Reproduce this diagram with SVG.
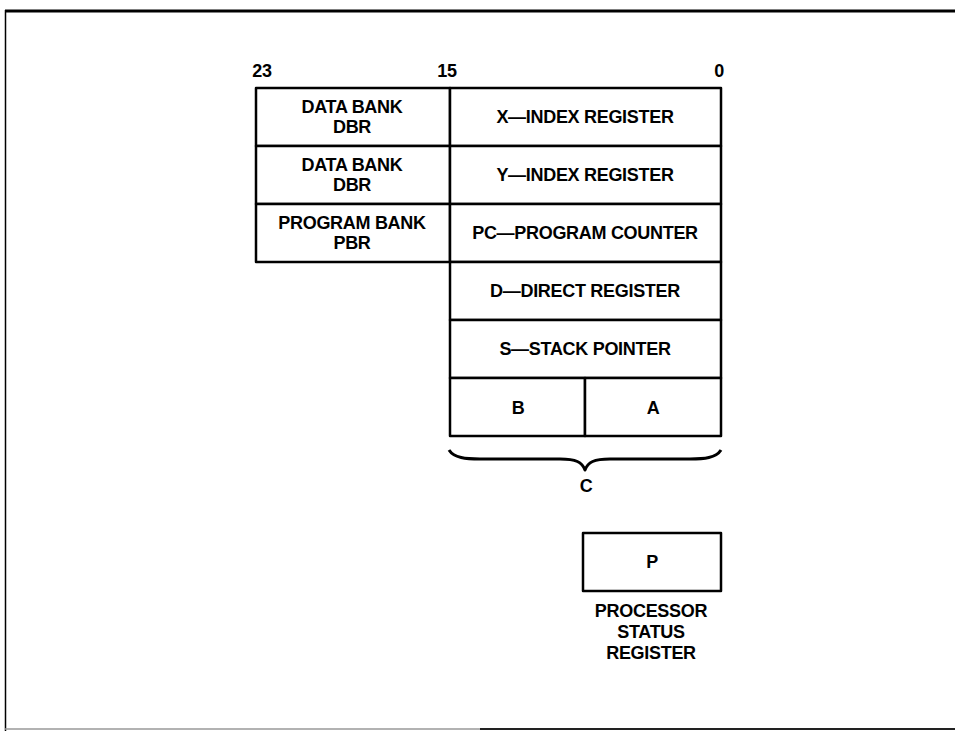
<svg xmlns="http://www.w3.org/2000/svg" width="955" height="731" viewBox="0 0 955 731">
<style>
.box{fill:#fff;stroke:#000;stroke-width:2.5;stroke-linejoin:round}
text{font-family:"Liberation Sans",Arial,sans-serif;font-size:18px;fill:#000;text-anchor:middle;font-weight:bold;letter-spacing:-0.3px}
.frame{fill:none;stroke:#000}
</style>
<rect width="955" height="731" fill="#fff"/>
<g id="frame">
<line class="frame" x1="5" y1="11" x2="955" y2="11" stroke-width="3"/>
<line class="frame" x1="5.5" y1="10" x2="5.5" y2="731" stroke-width="1.5"/>
<line x1="5" y1="729" x2="480" y2="729" stroke="#999" stroke-width="1.5"/>
<line x1="480" y1="729" x2="955" y2="729" stroke="#222" stroke-width="2"/>
</g>
<g id="bit-labels">
<text x="262" y="77">23</text>
<text x="447" y="77">15</text>
<text x="719" y="77">0</text>
</g>
<g id="dbr-x">
<rect class="box" x="256" y="88" width="194" height="58"/>
<text x="352" y="113">DATA BANK</text>
<text x="352" y="133">DBR</text>
</g>
<g id="x-register">
<rect class="box" x="450" y="88" width="271" height="58"/>
<text x="585" y="123">X—INDEX REGISTER</text>
</g>
<g id="dbr-y">
<rect class="box" x="256" y="146" width="194" height="58"/>
<text x="352" y="171">DATA BANK</text>
<text x="352" y="191">DBR</text>
</g>
<g id="y-register">
<rect class="box" x="450" y="146" width="271" height="58"/>
<text x="585" y="181">Y—INDEX REGISTER</text>
</g>
<g id="pbr">
<rect class="box" x="256" y="204" width="194" height="58"/>
<text x="352" y="229">PROGRAM BANK</text>
<text x="352" y="249">PBR</text>
</g>
<g id="pc">
<rect class="box" x="450" y="204" width="271" height="58"/>
<text x="585" y="239">PC—PROGRAM COUNTER</text>
</g>
<g id="d-register">
<rect class="box" x="450" y="262" width="271" height="58"/>
<text x="585" y="297">D—DIRECT REGISTER</text>
</g>
<g id="s-pointer">
<rect class="box" x="450" y="320" width="271" height="58"/>
<text x="585" y="355">S—STACK POINTER</text>
</g>
<g id="b-acc">
<rect class="box" x="450" y="378" width="135" height="58"/>
<text x="518" y="414">B</text>
</g>
<g id="a-acc">
<rect class="box" x="585" y="378" width="136" height="58"/>
<text x="653" y="414">A</text>
</g>
<g id="connectors">
<path d="M449,450 C454,458 466,459 480,459 L560,459 C576,459 582,462 585,470 C588,462 594,459 610,459 L690,459 C704,459 716,458 721,450" fill="none" stroke="#000" stroke-width="3" stroke-linejoin="round"/>
<text x="586" y="492">C</text>
</g>
<g id="p-register">
<rect class="box" x="583" y="533" width="138" height="58"/>
<text x="652" y="568">P</text>
<text x="651" y="617">PROCESSOR</text>
<text x="651" y="638">STATUS</text>
<text x="651" y="659">REGISTER</text>
</g>
</svg>
